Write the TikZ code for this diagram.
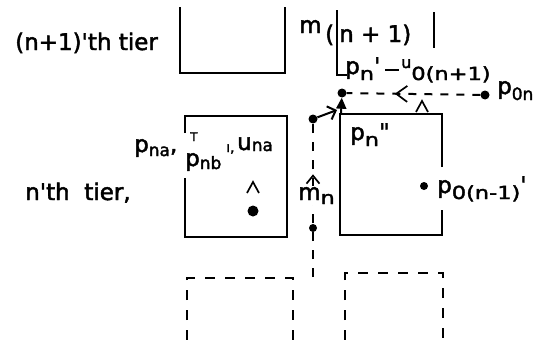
\documentclass[tikz,border=0pt]{standalone}
\usepackage{graphicx}
\usepackage{fontspec}
\newfontfamily\df[FakeBold=2]{DejaVu Sans}
\usetikzlibrary{arrows.meta,decorations.markings}
\newcommand\sbx[2][6pt]{\raisebox{-#1}{\fontsize{18}{18}\selectfont\scalebox{1.25}[1]{#2}}}
\newcommand\sbn[2][6pt]{\raisebox{-#1}{\fontsize{17}{17}\selectfont #2}}
\begin{document}
\begin{tikzpicture}[x=1pt,y=-1pt,
  lbl/.style={inner sep=0pt, font=\df\fontsize{23}{23}\selectfont, anchor=base west},
  ln/.style={line width=2pt},
  dshbox/.style={line width=2.4pt, dash pattern=on 10pt off 10pt},
  dshline/.style={line width=2pt, dash pattern=on 8pt off 8pt},
  pt/.style={circle, fill, inner sep=0pt, minimum size=#1},
  pt/.default=9pt,
  chev/.style={line width=1.7pt},
  midchev/.style args={#1/#2/#3}{postaction={decorate}, decoration={markings,
     mark=at position #1 with {\arrow[solid,line width=1.7pt]{Straight Barb[length=#2,width=#3]}}}}
]
\useasboundingbox (0,0) rectangle (541,340);

% (n+1)'th tier boxes
\draw[ln] (180,7) -- (180,73) -- (285,73) -- (285,7);
\draw[ln] (337,10) -- (337,75) -- (347,75);
\draw[ln] (434,12) -- (434,48);

% n'th tier boxes
\draw[ln] (185,133) -- (185,116) -- (287,116) -- (287,237) -- (185,237) -- (185,178);
\draw[ln] (442,167) -- (442,114) -- (340,114) -- (340,235) -- (442,235) -- (442,210);

% lower tier (dashed)
\draw[dshbox] (187,340) -- (187,278) -- (293,278) -- (293,340);
\draw[dshbox] (345,340) -- (345,273) -- (443,273) -- (443,340);

% points
\node[pt] (pn1) at (342,93) {};
\node[pt] (p0n) at (485,95) {};
\node[pt] (mt) at (313,119) {};
\node[pt=8pt] (mb) at (313,228) {};
\node[pt=11pt] (ld) at (253,211) {};
\node[pt=8pt] (p0m1) at (424,186) {};
\coordinate (mbot) at (313,277);
\coordinate (rc) at (341,114);
\coordinate (ma) at (337,110);

% connectors
\draw[dshline, midchev=0.64/11pt/16pt] (p0n) -- (pn1);
\draw[line width=2pt, dash pattern=on 9pt off 9pt, midchev=0.67/8pt/13pt] (mbot) -- (mt);
\draw[line width=2pt, -{Triangle[length=11pt,width=10pt]}] (rc) -- (pn1);
\draw[line width=2pt, -{Straight Barb[length=7pt,width=14pt]}] (mt) -- (ma);

% chevrons
\draw[chev] (416,112) -- (422,101) -- (428,112);
\draw[chev] (247,193) -- (253,182) -- (259,193);

% labels
\node[lbl] (t1) at (15,50) {(n+1)'th tier};
\node[lbl] (t0) at (25,200) {n'th\ \ tier,};
\node[lbl] (m1) at (299,33) {m};
\node[lbl] (m1s) at (325,42) {(\kern5pt n + 1)};
\node[lbl] (lpn1) at (345,74) {p\sbx{n}'};
\node[lbl] (lu0) at (385,74) {\rule[3pt]{14pt}{1.8pt}\kern2pt\raisebox{6pt}{\fontsize{16}{16}\selectfont u}\sbx{0(n+1)}};
\node[lbl] (lp0n) at (497,94) {p\sbn{0n}};
\node[lbl] (lpn2) at (350,140) {p\sbx{n}"};
\node[lbl] (lp0m1) at (437,193) {p\sbx{0(n-1)}'};
\node[lbl] (lpna) at (134,152) {p\sbn[4pt]{na},};
\node[lbl, font=\df\fontsize{12}{12}\selectfont] (lT) at (190,141) {T};
\node[lbl] (lpnb) at (185,166) {p\sbn[3pt]{nb}};
\node[lbl, font=\df\fontsize{14}{14}\selectfont] (lcm) at (226,152) {ı,};
\node[lbl] (luna) at (237,150) {u\sbn[1pt]{na}};
\node[lbl, fill=white, inner sep=1pt] (lmn) at (297,200) {m\sbx[4pt]{n}};
\end{tikzpicture}
\end{document}
